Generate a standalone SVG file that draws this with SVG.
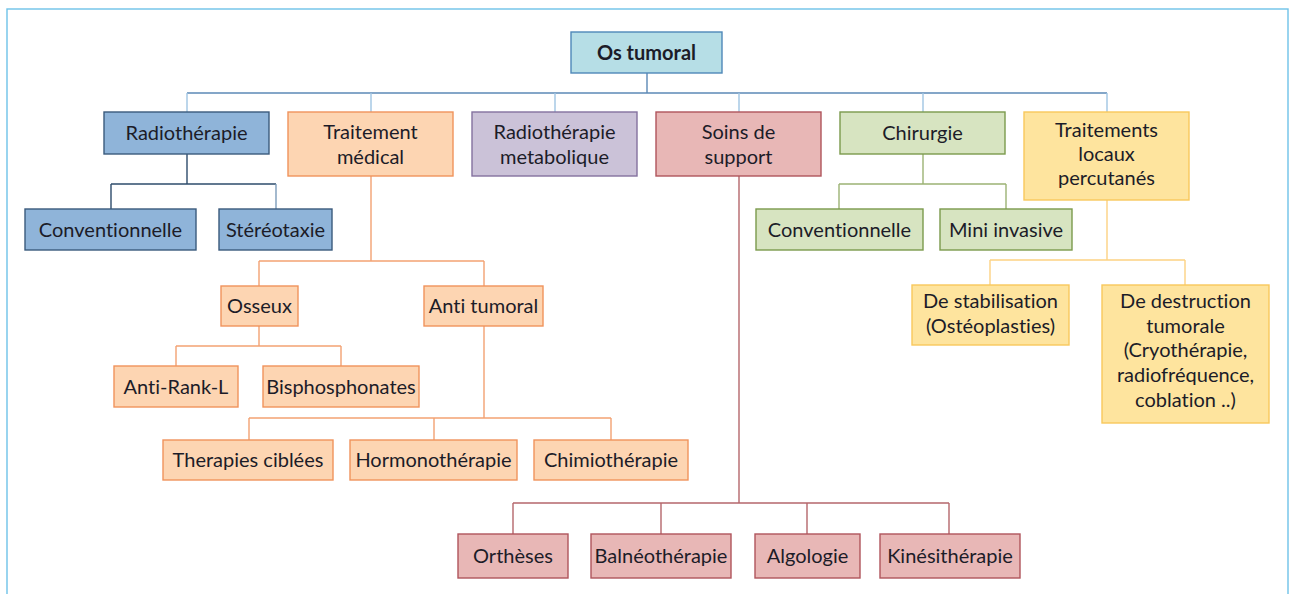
<svg xmlns="http://www.w3.org/2000/svg" width="1293" height="594" viewBox="0 0 1293 594">
<style>
text{font-family:Lato,"Noto Sans","Liberation Sans",sans-serif;font-size:20px;fill:#1c1c28;text-anchor:middle;font-variant-ligatures:none;font-feature-settings:"liga" 0,"dlig" 0}
.b{font-weight:bold}
rect{stroke-width:1.4}
.root{fill:#b6dee6;stroke:#4f88b8}
.blue{fill:#8fb4d9;stroke:#3a5a7c}
.org{fill:#fdd5b2;stroke:#f0935c}
.pur{fill:#cbc2d8;stroke:#83719f}
.red{fill:#e8b7b6;stroke:#b0545c}
.grn{fill:#d7e4c1;stroke:#7b9a4c}
.yel{fill:#fee49e;stroke:#f8c85c}
#connectors path{fill:none;stroke-width:1.4}
</style>
<rect x="7" y="9" width="1281" height="600" fill="#fff" stroke="#6ec2e8" stroke-width="2"/>
<g id="connectors">
<path d="M647 73V93M187 93H1107" stroke="#5c89b6"/>
<path d="M187 93V112M371 93V112M555 93V112M739 93V112M923 93V112M1107 93V112" stroke="#a0c5e3"/>
<path d="M187 154V184M111 184H276M111 184V209" stroke="#2e4c6c"/>
<path d="M276 184V209" stroke="#7d9cba"/>
<path d="M371 176V261M259 261H484M259 261V286M484 261V286M259 326V346M176 346H341M176 346V366M341 346V366M484 326V418M249 418H611M249 418V440M434 418V440M611 418V440" stroke="#f3a273"/>
<path d="M739 176V503M513 503H949M513 503V534M661 503V534M807 503V534M949 503V534" stroke="#b5676c"/>
<path d="M923 154V184M839 184H1006M839 184V209M1006 184V209" stroke="#9cb374"/>
<path d="M1107 200V260M990 260H1185M990 260V285M1185 260V285" stroke="#fdd283"/>
</g>
<g id="os-tumoral"><rect class="root" x="571" y="32" width="151" height="41"/><text class="b" x="646.5" y="59.5">Os tumoral</text></g>
<g id="radiotherapie"><rect class="blue" x="104" y="112" width="165" height="42"/><text x="186.5" y="139.5">Radiothérapie</text></g>
<g id="traitement-medical"><rect class="org" x="288" y="112" width="165" height="64"/><text x="370.5" y="139">Traitement</text><text x="370.5" y="164">médical</text></g>
<g id="radiotherapie-metabolique"><rect class="pur" x="472" y="112" width="165" height="64"/><text x="554.5" y="139">Radiothérapie</text><text x="554.5" y="164">metabolique</text></g>
<g id="soins-de-support"><rect class="red" x="656" y="112" width="165" height="64"/><text x="738.5" y="139">Soins de</text><text x="738.5" y="164">support</text></g>
<g id="chirurgie"><rect class="grn" x="840" y="112" width="165" height="42"/><text x="922.5" y="139.5">Chirurgie</text></g>
<g id="traitements-locaux"><rect class="yel" x="1024" y="112" width="165" height="88"/><text x="1106.5" y="137">Traitements</text><text x="1106.5" y="161">locaux</text><text x="1106.5" y="185">percutanés</text></g>
<g id="conventionnelle-radio"><rect class="blue" x="25" y="209" width="171" height="41"/><text x="110.5" y="236.5">Conventionnelle</text></g>
<g id="stereotaxie"><rect class="blue" x="219" y="209" width="113" height="41"/><text x="275.5" y="236.5">Stéréotaxie</text></g>
<g id="conventionnelle-chir"><rect class="grn" x="756" y="209" width="167" height="41"/><text x="839.5" y="236.5">Conventionnelle</text></g>
<g id="mini-invasive"><rect class="grn" x="940" y="209" width="132" height="41"/><text x="1006" y="236.5">Mini invasive</text></g>
<g id="osseux"><rect class="org" x="221" y="286" width="77" height="40"/><text x="259.5" y="313">Osseux</text></g>
<g id="anti-tumoral"><rect class="org" x="424" y="286" width="119" height="40"/><text x="483.5" y="313">Anti tumoral</text></g>
<g id="anti-rank-l"><rect class="org" x="114" y="366" width="124" height="41"/><text x="176" y="393.5">Anti-Rank-L</text></g>
<g id="bisphosphonates"><rect class="org" x="263" y="366" width="156" height="41"/><text x="341" y="393.5">Bisphosphonates</text></g>
<g id="therapies-ciblees"><rect class="org" x="163" y="440" width="170" height="40"/><text x="248" y="467">Therapies ciblées</text></g>
<g id="hormonotherapie"><rect class="org" x="350" y="440" width="167" height="40"/><text x="433.5" y="467">Hormonothérapie</text></g>
<g id="chimiotherapie"><rect class="org" x="534" y="440" width="154" height="40"/><text x="611" y="467">Chimiothérapie</text></g>
<g id="de-stabilisation"><rect class="yel" x="912" y="285" width="157" height="60"/><text x="990.5" y="308">De stabilisation</text><text x="990.5" y="333">(Ostéoplasties)</text></g>
<g id="de-destruction"><rect class="yel" x="1102" y="285" width="167" height="138"/><text x="1185.5" y="308">De destruction</text><text x="1185.5" y="333">tumorale</text><text x="1185.5" y="357">(Cryothérapie,</text><text x="1185.5" y="382">radiofréquence,</text><text x="1185.5" y="407">coblation ..)</text></g>
<g id="ortheses"><rect class="red" x="458" y="534" width="110" height="44"/><text x="513" y="563">Orthèses</text></g>
<g id="balneotherapie"><rect class="red" x="591" y="534" width="140" height="44"/><text x="661" y="563">Balnéothérapie</text></g>
<g id="algologie"><rect class="red" x="755" y="534" width="105" height="44"/><text x="807.5" y="563">Algologie</text></g>
<g id="kinesitherapie"><rect class="red" x="880" y="534" width="140" height="44"/><text x="950" y="563">Kinésithérapie</text></g>
</svg>
